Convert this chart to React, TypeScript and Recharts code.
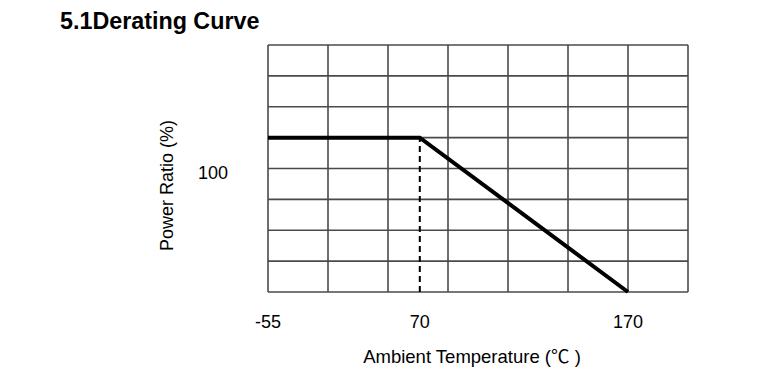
import React from 'react';
import { LineChart, Line, XAxis, YAxis, ReferenceLine } from 'recharts';

// Schematic derating curve, positions in grid units (7 columns x 8 rows)
const gridColumns = [0, 1, 2, 3, 4, 5, 6, 7];
const gridRows = [0, 1, 2, 3, 4, 5, 6, 7, 8];

const xTickPositions = [0, 2.53, 6];
const xTickLabels = ['-55', '70', '170'];

const yTickPositions = [4];
const yTickLabels = ['100'];

const curveX = [0, 2.53, 6];
const curveY = [5, 5, 0];

const kneeX = 2.53;
const kneeY = 5;

const data = curveX.map((x, i) => ({ x, y: curveY[i] }));

const FONT = '"Liberation Sans", Arial, "Noto Sans CJK SC", sans-serif';
const CJK = '"Noto Sans CJK SC", "Liberation Sans", sans-serif';
const GRID = '#4a4a4a';

const XTick = (props: any) => {
  const { x, y, index } = props;
  return (
    <text x={x} y={y + 30} dy="0.355em" textAnchor="middle" fontSize={18} fill="#000" fontFamily={FONT}>
      {xTickLabels[index]}
    </text>
  );
};

const YTick = (props: any) => {
  const { x, y, index } = props;
  return (
    <text x={x - 55} y={y + 4} dy="0.355em" textAnchor="middle" fontSize={18} fill="#000" fontFamily={FONT}>
      {yTickLabels[index]}
    </text>
  );
};

const XLabel = (props: any) => {
  const vb = props.viewBox || {};
  return (
    <text x={vb.x + vb.width / 2 - 6} y={vb.y + 64} dy="0.355em" textAnchor="middle" fontSize={18.5} fill="#000" fontFamily={FONT}>
      Ambient Temperature (<tspan fontFamily={CJK}>℃</tspan> )
    </text>
  );
};

const YLabel = (props: any) => {
  const vb = props.viewBox || {};
  const cx = 167;
  const cy = vb.y + vb.height / 2 + 17;
  return (
    <text x={cx} y={cy} dy="0.355em" textAnchor="middle" fontSize={18} fill="#000" fontFamily={FONT} transform={`rotate(-90 ${cx} ${cy})`}>
      Power Ratio (%)
    </text>
  );
};

export default function App() {
  return (
    <div style={{ position: 'absolute', left: 0, top: 0, width: 775, height: 369, background: '#fff', fontFamily: FONT }}>
      <div style={{ position: 'absolute', left: 60, top: 10, fontSize: 23.3, lineHeight: '23px', fontWeight: 'bold', color: '#000', whiteSpace: 'nowrap' }}>
        5.1Derating Curve
      </div>
      <LineChart width={775} height={369} data={data} margin={{ top: 45, right: 87, bottom: 0, left: 0 }}>
        <XAxis
          dataKey="x"
          type="number"
          domain={[0, 7]}
          ticks={xTickPositions}
          height={77}
          axisLine={false}
          tickLine={false}
          tickSize={0}
          tickMargin={0}
          tick={<XTick />}
          interval={0}
          label={<XLabel />}
        />
        <YAxis
          type="number"
          domain={[0, 8]}
          ticks={yTickPositions}
          width={268}
          axisLine={false}
          tickLine={false}
          tickSize={0}
          tickMargin={0}
          tick={<YTick />}
          interval={0}
          label={<YLabel />}
        />
        {gridColumns.map((v) => (
          <ReferenceLine key={'c' + v} x={v} stroke={GRID} strokeWidth={1.6} />
        ))}
        {gridRows.map((v) => (
          <ReferenceLine key={'r' + v} y={v} stroke={GRID} strokeWidth={1.6} />
        ))}
        <ReferenceLine
          segment={[{ x: kneeX, y: 0 }, { x: kneeX, y: kneeY }]}
          stroke="#000"
          strokeWidth={2}
          strokeDasharray="6 4"
        />
        <Line
          dataKey="y"
          type="linear"
          stroke="#000"
          strokeWidth={4}
          dot={false}
          activeDot={false}
          isAnimationActive={false}
        />
      </LineChart>
    </div>
  );
}
